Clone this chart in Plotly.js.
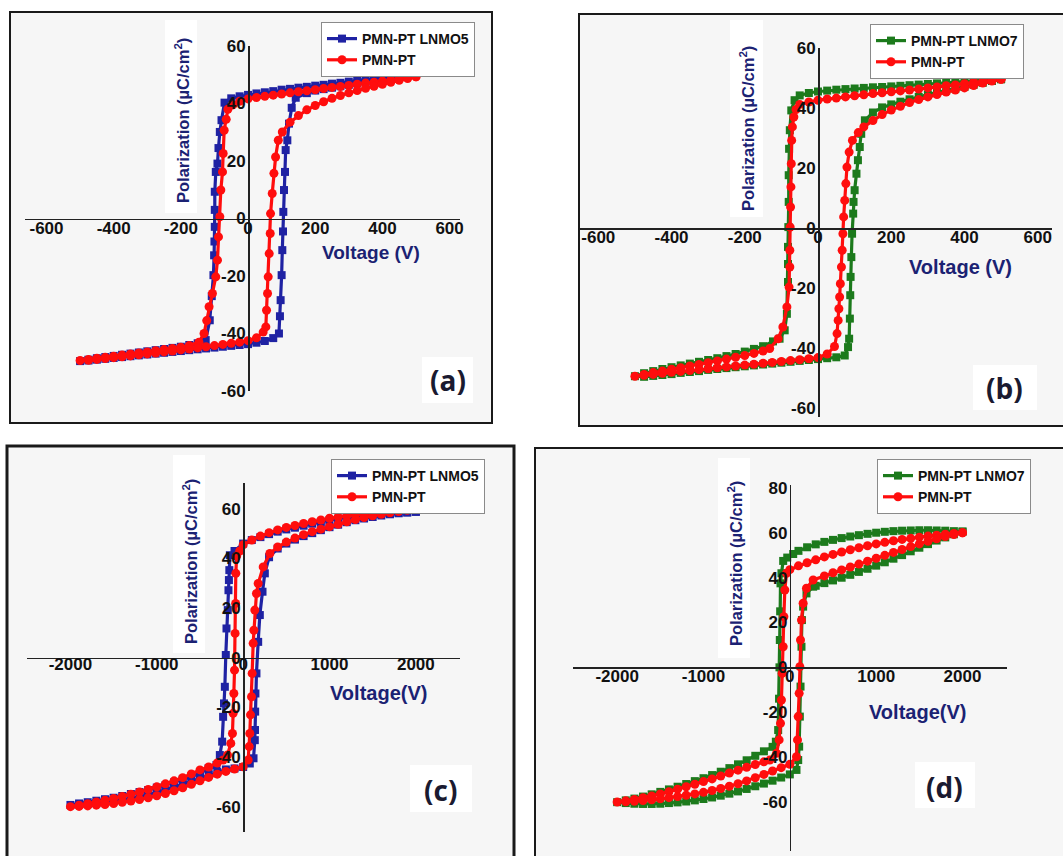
<!DOCTYPE html>
<html>
<head>
<meta charset="utf-8">
<script src="https://cdn.plot.ly/plotly-3.0.1.min.js"></script>
<style>html,body{margin:0;padding:0;background:#fff;}#chart{width:1063px;height:856px;}
#chart .xtick text, #chart .ytick text{font-weight:700 !important;}</style>
</head>
<body>
<div id="chart"></div>
<script>
// ---------------- DATA ----------------
// Panel (a): voltage sweep ±500 V
const aLNMO5_V = [500,475,450,425,400,375,350,325,300,275,250,225,200,175,150,125,100,75,50,25,0,-25,-50,-70,
 -79,-84,-88,-91,-96,-99,-99,-99,-100,-101,-103,-108,-114,-126,
 -150,-175,-200,-225,-250,-275,-300,-325,-350,-375,-400,-425,-450,-475,-500,
 -475,-450,-425,-400,-375,-350,-325,-300,-275,-250,-225,-200,-175,-150,-125,-100,-75,-50,-25,0,25,50,75,92,
 95,97,100,102,104,105,107,110,112,117,122,130,142,
 175,200,225,250,275,300,325,350,375,400,425,450,475,500];
const aLNMO5_P = [50.4,50.0,49.7,49.3,49.0,48.6,48.3,47.9,47.6,47.2,46.9,46.5,46.2,45.8,45.5,45.1,44.8,44.3,43.9,43.5,43.0,42.5,41.8,40.3,
 34.2,30.1,24.5,19.1,16.2,9.3,3.0,-2.9,-8.0,-12.8,-19.7,-27.0,-35.4,-42.3,
 -43.4,-44.0,-44.6,-45.0,-45.4,-45.8,-46.2,-46.6,-47.0,-47.4,-47.8,-48.2,-48.6,-49.1,-49.6,
 -49.4,-49.1,-48.8,-48.5,-48.2,-47.9,-47.6,-47.3,-47.0,-46.7,-46.4,-46.1,-45.8,-45.5,-45.2,-44.9,-44.6,-44.3,-44.0,-43.7,-43.2,-42.6,-41.6,-40.0,
 -34.0,-28.4,-19.7,-11.0,-4.5,2.3,9.9,16.2,23.8,27.2,33.0,38.5,42.0,
 43.6,44.5,45.0,45.5,46.0,46.5,47.0,47.5,48.0,48.5,49.0,49.5,49.9,50.4];
const aPMNPT_V = [500,475,450,425,400,375,350,325,300,275,250,225,200,175,150,125,100,75,50,25,0,-25,-45,-60,
 -65,-71,-74,-76,-81,-84,-88,-91,-96,-106,-116,-123,-131,-146,
 -175,-200,-225,-250,-275,-300,-325,-350,-375,-400,-425,-450,-475,-500,
 -475,-450,-425,-400,-375,-350,-325,-300,-275,-250,-225,-200,-175,-150,-125,-100,-75,-50,-25,0,25,45,53,
 55,58,60,63,66,67,72,77,82,90,102,
 125,150,175,200,225,250,275,300,325,350,375,400,425,450,475,500];
const aPMNPT_P = [49.3,49.0,48.6,48.2,47.8,47.4,47.1,46.7,46.3,45.9,45.6,45.2,44.8,44.4,44.1,43.7,43.3,42.9,42.5,42.1,41.6,40.8,39.5,38.0,
 34.5,30.7,22.6,16.2,9.9,0.6,-6.4,-14.5,-20.3,-26.1,-30.7,-35.5,-40.0,-43.0,
 -44.2,-44.8,-45.2,-45.6,-46.0,-46.4,-46.8,-47.1,-47.5,-47.9,-48.3,-48.6,-49.0,-49.4,
 -49.3,-49.0,-48.7,-48.4,-48.1,-47.8,-47.4,-47.1,-46.8,-46.4,-46.1,-45.7,-45.4,-45.0,-44.6,-44.2,-43.8,-43.4,-43.0,-42.5,-41.5,-39.5,-37.7,
 -31.9,-26.1,-20.3,-12.2,-5.2,1.7,8.7,15.7,21.4,27.2,30.1,
 33.5,35.8,37.8,39.3,40.6,41.8,42.8,43.7,44.5,45.3,46.0,46.7,47.4,48.1,48.7,49.3];

// Panel (b): voltage sweep ±500 V
const bLNMO7_V = [500,475,450,425,400,375,350,325,300,275,250,225,200,175,150,125,100,75,50,25,0,-25,-50,-64,-73,
 -77,-79,-80,-80,-81,-82,-82,-82,-85,-91,-105,-123,
 -150,-175,-200,-225,-250,-275,-300,-325,-350,-375,-400,-425,-450,-475,-500,
 -475,-450,-425,-400,-375,-350,-325,-300,-275,-250,-225,-200,-175,-150,-125,-100,-75,-50,-25,0,25,50,73,82,
 85,87,88,89,91,93,96,97,100,105,109,114,118,128,
 150,175,200,225,250,275,300,325,350,375,400,425,450,475,500];
const bLNMO7_P = [49.6,49.4,49.2,49.0,48.8,48.6,48.4,48.2,48.0,47.8,47.6,47.4,47.2,47.0,46.9,46.7,46.5,46.3,46.1,45.8,45.5,45.0,44.2,42.6,39.2,
 32.6,26.4,17.6,8.7,0.3,-6.3,-12.0,-18.0,-28.6,-34.1,-36.9,-37.8,
 -39.4,-40.3,-41.2,-42.0,-42.7,-43.4,-44.0,-44.6,-45.2,-45.8,-46.4,-47.0,-47.7,-48.4,-49.4,
 -49.6,-49.3,-49.0,-48.7,-48.3,-48.0,-47.7,-47.3,-47.0,-46.7,-46.4,-46.1,-45.8,-45.5,-45.2,-44.9,-44.6,-44.3,-44.0,-43.7,-43.4,-43.1,-42.5,-39.7,
 -36.9,-30.2,-22.4,-16.3,-9.7,-1.9,4.8,8.7,12.6,18.1,22.6,27.0,31.4,35.9,
 38.5,40.2,41.2,42.1,42.9,43.7,44.5,45.2,45.8,46.4,47.0,47.7,48.4,49.0,49.6];
const bPMNPT_V = [500,475,450,425,400,375,350,325,300,275,250,225,200,175,150,125,100,75,50,25,0,-25,-50,-60,-66,
 -70,-72,-73,-74,-75,-76,-77,-77,-79,-85,-96,-109,-132,
 -150,-175,-200,-225,-250,-275,-300,-325,-350,-375,-400,-425,-450,-475,-500,
 -475,-450,-425,-400,-375,-350,-325,-300,-275,-250,-225,-200,-175,-150,-125,-100,-75,-50,-25,0,25,45,52,
 55,57,59,61,64,66,68,70,73,76,79,85,94,
 110,125,150,175,200,225,250,275,300,325,350,375,400,425,450,475,500];
const bPMNPT_P = [49.6,49.3,48.9,48.5,48.1,47.7,47.4,47.0,46.7,46.3,46.0,45.7,45.4,45.1,44.8,44.4,44.1,43.7,43.3,43.0,42.6,42.0,41.2,39.5,37.0,
 33.7,29.2,21.4,13.7,7.0,0.3,-7.4,-13.0,-19.7,-26.3,-33.0,-36.9,-40.2,
 -41.0,-41.8,-42.5,-43.1,-43.7,-44.3,-44.9,-45.5,-46.0,-46.6,-47.1,-47.7,-48.2,-48.8,-49.4,
 -49.1,-48.8,-48.4,-48.1,-47.8,-47.5,-47.2,-46.9,-46.6,-46.3,-46.0,-45.7,-45.4,-45.1,-44.8,-44.5,-44.2,-43.9,-43.6,-43.2,-42.0,-39.5,-35.2,
 -30.8,-26.9,-23.0,-18.6,-13.0,-7.4,-1.9,3.7,9.2,14.8,20.3,25.3,29.2,
 31.8,33.7,35.8,37.8,39.3,40.6,41.8,42.8,43.7,44.5,45.3,46.0,46.7,47.5,48.3,49.0,49.6];

// Panel (c): voltage sweep ±2000 V
const cLNMO5_V = [2000,1900,1800,1700,1600,1500,1400,1300,1200,1100,1000,900,800,700,600,500,400,300,200,100,0,-100,-154,
 -160,-165,-170,-178,-193,-201,-212,-222,-232,-243,-270,-309,
 -400,-500,-600,-700,-800,-900,-1000,-1100,-1200,-1300,-1400,-1500,-1600,-1700,-1800,-1900,-2000,
 -1900,-1800,-1700,-1600,-1500,-1400,-1300,-1200,-1100,-1000,-900,-800,-700,-600,-500,-400,-300,-200,-100,0,77,
 120,135,137,139,142,154,174,193,224,251,
 300,400,500,600,700,800,900,1000,1100,1200,1300,1400,1500,1600,1700,1800,1900,2000];
const cLNMO5_P = [58.8,58.6,58.4,58.2,58.0,57.7,57.4,57.0,56.6,56.0,55.4,54.7,54.0,53.2,52.4,51.7,50.8,49.8,48.6,47.4,46.0,43.0,41.3,
 35.3,31.3,27.2,19.2,11.8,1.1,-11.7,-18.4,-23.8,-33.8,-39.2,-43.2,
 -44.5,-46.6,-47.8,-49.0,-50.2,-51.4,-52.3,-53.3,-54.1,-54.9,-55.7,-56.4,-57.0,-57.6,-58.2,-58.7,-59.3,
 -59.1,-58.9,-58.6,-58.2,-57.8,-57.3,-56.7,-56.0,-55.2,-54.3,-53.3,-52.2,-51.0,-49.8,-48.5,-47.2,-46.0,-45.0,-44.6,-44.0,-42.6,
 -40.5,-33.2,-29.1,-21.7,-14.4,-6.3,6.4,17.2,26.6,34.0,
 40.5,44.0,46.0,47.6,49.0,50.2,51.4,52.6,53.6,54.6,55.4,56.1,56.7,57.3,57.8,58.2,58.5,58.8];
const cPMNPT_V = [2000,1900,1800,1700,1600,1500,1400,1300,1200,1100,1000,900,800,700,600,500,400,300,200,100,0,-40,-75,
 -85,-87,-93,-100,-108,-116,-124,-143,-181,-232,
 -300,-400,-500,-600,-700,-800,-900,-1000,-1100,-1200,-1300,-1400,-1500,-1600,-1700,-1800,-1900,-2000,
 -1900,-1800,-1700,-1600,-1500,-1400,-1300,-1200,-1100,-1000,-900,-800,-700,-600,-500,-400,-300,-200,-100,0,58,
 70,77,85,97,104,116,124,135,154,174,232,309,
 400,500,600,700,800,900,1000,1100,1200,1300,1400,1500,1600,1700,1800,1900,2000];
const cPMNPT_P = [59.9,59.7,59.4,59.1,58.8,58.5,58.1,57.7,57.2,56.7,56.2,55.5,54.8,54.1,53.3,52.5,51.5,50.4,49.0,47.4,45.5,43.0,41.0,
 34.0,21.9,9.8,-5.0,-14.4,-22.4,-30.5,-34.5,-39.2,-41.2,
 -42.4,-44.0,-45.2,-46.8,-48.3,-49.6,-50.8,-52.0,-53.1,-54.1,-55.0,-55.9,-56.7,-57.4,-58.1,-58.8,-59.4,-60.0,
 -59.9,-59.7,-59.4,-59.1,-58.7,-58.2,-57.7,-57.1,-56.4,-55.6,-54.7,-53.6,-52.4,-51.0,-49.6,-48.2,-46.9,-45.8,-44.8,-43.9,-41.2,
 -35.8,-30.5,-23.0,-15.7,-6.3,5.8,11.1,19.2,25.9,29.9,36.6,42.0,
 44.6,46.6,48.2,49.6,50.8,51.8,52.8,53.8,54.8,55.7,56.5,57.2,57.8,58.4,58.9,59.4,59.9];

// Panel (d): voltage sweep ±2000 V
const dLNMO7_V = [2000,1900,1800,1700,1600,1500,1400,1300,1200,1100,1000,900,800,700,600,500,400,300,200,100,39,-30,-77,
 -97,-108,-112,-116,-120,-125,-135,-162,
 -200,-300,-400,-500,-600,-700,-800,-900,-1000,-1100,-1200,-1300,-1400,-1500,-1600,-1700,-1800,-1900,-2000,
 -1900,-1800,-1700,-1600,-1500,-1400,-1300,-1200,-1100,-1000,-900,-800,-700,-600,-500,-400,-300,-200,-100,0,77,
 97,108,116,124,135,140,154,193,270,
 300,400,500,600,700,800,900,1000,1100,1200,1300,1400,1500,1600,1700,1800,1900,2000];
const dLNMO7_P = [60.6,60.8,61.0,61.1,61.2,61.2,61.1,61.0,60.8,60.5,60.1,59.6,59.0,58.4,57.7,56.9,56.0,54.9,53.6,52.0,50.6,49.0,47.5,
 42.0,37.5,25.0,12.2,0.0,-14.0,-28.0,-33.2,
 -35.5,-37.5,-39.5,-41.5,-43.3,-45.0,-46.6,-48.1,-49.5,-50.8,-52.1,-53.3,-54.5,-55.6,-56.7,-57.7,-58.6,-59.4,-60.2,
 -60.6,-60.9,-61.0,-61.0,-60.9,-60.6,-60.3,-59.9,-59.4,-58.8,-58.1,-57.3,-56.4,-55.4,-54.3,-53.1,-51.9,-50.6,-49.2,-47.8,-45.8,
 -41.4,-35.4,-22.0,-8.6,9.2,21.1,27.1,33.0,36.0,
 36.4,37.6,38.8,40.0,41.3,42.6,44.0,45.4,46.9,48.5,50.1,51.8,53.4,55.0,56.6,58.0,59.4,60.6];
const dPMNPT_V = [2000,1900,1800,1700,1600,1500,1400,1300,1200,1100,1000,900,800,700,600,500,400,300,200,100,0,-39,
 -58,-69,-77,-89,-97,-108,-124,-154,-232,
 -300,-400,-500,-600,-700,-800,-900,-1000,-1100,-1200,-1300,-1400,-1500,-1600,-1700,-1800,-1900,-2000,
 -1900,-1800,-1700,-1600,-1500,-1400,-1300,-1200,-1100,-1000,-900,-800,-700,-600,-500,-400,-300,-200,-100,0,77,
 89,97,108,116,124,135,154,193,270,
 400,500,600,700,800,900,1000,1100,1200,1300,1400,1500,1600,1700,1800,1900,2000];
const dPMNPT_P = [60.1,59.8,59.4,59.0,58.6,58.1,57.6,57.1,56.5,55.8,55.1,54.3,53.4,52.5,51.5,50.4,49.3,48.0,46.7,45.3,43.6,42.0,
 34.5,22.6,9.2,-2.7,-14.6,-25.0,-32.4,-38.4,-41.4,
 -42.2,-43.4,-44.6,-45.9,-47.2,-48.5,-49.8,-51.0,-52.2,-53.3,-54.4,-55.5,-56.5,-57.4,-58.2,-59.0,-59.6,-60.1,
 -60.0,-59.8,-59.5,-59.1,-58.7,-58.2,-57.7,-57.1,-56.5,-55.8,-55.0,-54.1,-53.1,-52.0,-50.7,-49.3,-47.8,-46.3,-44.8,-43.3,-39.9,
 -32.4,-22.0,-11.6,0.3,12.2,21.1,28.6,35.3,39.0,
 40.8,42.2,43.5,44.8,46.1,47.4,48.7,50.0,51.3,52.6,53.9,55.1,56.3,57.4,58.4,59.3,60.1];

// Series names and tick labels
const seriesNames = ['PMN-PT LNMO5', 'PMN-PT LNMO7', 'PMN-PT'];
const panelLabels = ['(a)', '(b)', '(c)', '(d)'];
const xTicks500 = [-600,-400,-200,0,200,400,600];
const xTickText500 = ['-600','-400','-200','0','200','400','600'];
const xTicks2000 = [-2000,-1000,0,1000,2000];
const xTickText2000 = ['-2000','-1000','0','1000','2000'];
const yTicks60 = [-60,-40,-20,0,20,40,60];
const yTickText60 = ['-60','-40','-20','0','20','40','60'];
const yTicks80 = [-80,-60,-40,-20,0,20,40,60,80];
const yTickText80 = ['-80','-60','-40','-20','0','20','40','60','80'];

// ---------------- LAYOUT HELPERS ----------------
const W = 1063, H = 856;
const fx = px => px / W;
const fy = py => 1 - py / H;
const FONT = 'Liberation Sans, Arial, sans-serif';
const NAVY = '#1b2273';
const BLUE = '#1f22a3';
const RED = '#ff0d0d';
const GREEN = '#1c7a1c';
const bold = arr => arr.map(t => '<b>' + t + '</b>');

const layout = {
  width: W, height: H,
  margin: {l: 0, r: 0, t: 0, b: 0},
  paper_bgcolor: '#ffffff',
  plot_bgcolor: 'rgba(0,0,0,0)',
  showlegend: true,
  shapes: [], annotations: []
};

function addAxes(n, xPx, xRange, yPx, yRange, xt, xtt, yt, ytt, xStand) {
  const xd = [fx(xPx[0]), fx(xPx[1])];
  const yd = [fy(yPx[1]), fy(yPx[0])];
  const xPos = yd[0] + (0 - yRange[0]) / (yRange[1] - yRange[0]) * (yd[1] - yd[0]);
  const yPos = xd[0] + (0 - xRange[0]) / (xRange[1] - xRange[0]) * (xd[1] - xd[0]);
  const sfx = n === 1 ? '' : String(n);
  const tf = {family: 'Liberation Sans', size: 17, color: '#111', weight: 'bold'};
  layout['xaxis' + sfx] = {
    domain: xd, range: xRange, anchor: 'free', position: xPos,
    tickmode: 'array', tickvals: xt, ticktext: bold(xtt), ticks: '', ticklabelstandoff: xStand,
    showline: true, linecolor: '#222', linewidth: 1.6,
    showgrid: false, zeroline: false, tickfont: tf, fixedrange: true
  };
  layout['yaxis' + sfx] = {
    domain: yd, range: yRange, anchor: 'free', position: yPos,
    tickmode: 'array', tickvals: yt, ticktext: bold(ytt), ticks: '', ticklabelstandoff: -1,
    showline: true, linecolor: '#222', linewidth: 1.6,
    showgrid: false, zeroline: false, tickfont: tf, fixedrange: true
  };
}

function frame(x0, y0, x1, y1, w) {
  layout.shapes.push({type: 'rect', xref: 'paper', yref: 'paper', layer: 'below',
    x0: fx(x0), x1: fx(x1), y0: fy(y1), y1: fy(y0),
    line: {color: '#1a1a1a', width: w}, fillcolor: '#f6f6f6'});
}
function whiteBox(x0, y0, x1, y1) {
  layout.shapes.push({type: 'rect', xref: 'paper', yref: 'paper', layer: 'below',
    x0: fx(x0), x1: fx(x1), y0: fy(y1), y1: fy(y0),
    line: {width: 0}, fillcolor: '#ffffff'});
}
function text(t, cx, cy, size, color, angle, family, weight) {
  layout.annotations.push({text: t, xref: 'paper', yref: 'paper', x: fx(cx), y: fy(cy),
    xanchor: 'center', yanchor: 'middle', showarrow: false, textangle: angle || 0,
    font: {family: family || FONT, size: size, color: color, weight: weight || 700}});
}
function legendBox(key, px, py) {
  layout[key] = {x: fx(px), y: fy(py), xanchor: 'left', yanchor: 'top',
    bgcolor: '#ffffff', bordercolor: '#8a8a8a', borderwidth: 1,
    font: {family: FONT, size: 14, color: '#111', weight: 700},
    itemwidth: 30, tracegroupgap: 0};
}

// Frames
frame(10, 12, 492, 423, 2);
frame(579, 14, 1068, 426, 2);
frame(7, 446, 514, 862, 3);
frame(535, 448, 1068, 862, 2);

// White boxes behind titles/labels
whiteBox(165, 20, 197, 213); whiteBox(422, 357, 473, 403);
whiteBox(730, 20, 763, 217); whiteBox(973, 365, 1037, 410);
whiteBox(173, 455, 205, 653); whiteBox(410, 765, 472, 812);
whiteBox(718, 458, 750, 658); whiteBox(915, 762, 975, 808);

// Axes
addAxes(1, [25, 460], [-664, 631], [46, 391], [-60, 60], xTicks500, xTickText500, yTicks60, yTickText60, -7);
addAxes(2, [580, 1052], [-650, 639], [48, 417], [-63, 60], xTicks500, xTickText500, yTicks60, yTickText60, -7);
addAxes(3, [27, 460], [-2503, 2511], [483, 832], [-70.2, 70.4], xTicks2000, xTickText2000, yTicks60, yTickText60, -10);
addAxes(4, [573, 1007], [-2511, 2515], [485, 851], [-82, 81.4], xTicks2000, xTickText2000, yTicks80, yTickText80, -7);

// Titles
const yTitle = 'Polarization (µC/cm<sup>2</sup>)';
text(yTitle, 182, 121, 16.5, NAVY, -90);
text(yTitle, 747, 129, 16.5, NAVY, -90);
text(yTitle, 190, 562, 16.5, NAVY, -90);
text(yTitle, 735, 564, 16.5, NAVY, -90);
text('Voltage (V)', 371, 253, 19, NAVY, 0);
text('Voltage (V)', 960, 267, 20, NAVY, 0);
text('Voltage(V)', 378, 693, 20, NAVY, 0);
text('Voltage(V)', 917, 712, 20, NAVY, 0);
text(panelLabels[0], 448, 380, 28, '#1a1a30', 0, 'Open Sans, sans-serif', 700);
text(panelLabels[1], 1004, 388, 28, '#1a1a30', 0, 'Open Sans, sans-serif', 700);
text(panelLabels[2], 440, 790, 28, '#1a1a30', 0, 'Open Sans, sans-serif', 700);
text(panelLabels[3], 944, 787, 28, '#1a1a30', 0, 'Open Sans, sans-serif', 700);

// Legends
legendBox('legend', 321, 22);
legendBox('legend2', 870, 24);
legendBox('legend3', 331, 459);
legendBox('legend4', 877, 459);

// Traces
function loop(V, P, ax, name, color, symbol, size, leg) {
  return {type: 'scatter', mode: 'lines+markers', x: V, y: P,
    xaxis: 'x' + ax, yaxis: 'y' + ax, name: name, legend: leg,
    line: {color: color, width: 3.2},
    marker: {color: color, symbol: symbol, size: size, line: {width: 0}},
    cliponaxis: false, hoverinfo: 'skip'};
}
const data = [
  loop(aLNMO5_V, aLNMO5_P, '', seriesNames[0], BLUE, 'square', 8, 'legend'),
  loop(aPMNPT_V, aPMNPT_P, '', seriesNames[2], RED, 'circle', 9, 'legend'),
  loop(bLNMO7_V, bLNMO7_P, '2', seriesNames[1], GREEN, 'square', 8, 'legend2'),
  loop(bPMNPT_V, bPMNPT_P, '2', seriesNames[2], RED, 'circle', 9, 'legend2'),
  loop(cLNMO5_V, cLNMO5_P, '3', seriesNames[0], BLUE, 'square', 8, 'legend3'),
  loop(cPMNPT_V, cPMNPT_P, '3', seriesNames[2], RED, 'circle', 9, 'legend3'),
  loop(dLNMO7_V, dLNMO7_P, '4', seriesNames[1], GREEN, 'square', 8, 'legend4'),
  loop(dPMNPT_V, dPMNPT_P, '4', seriesNames[2], RED, 'circle', 9, 'legend4')
];

Plotly.newPlot('chart', data, layout, {displayModeBar: false, staticPlot: true});
</script>
</body>
</html>
